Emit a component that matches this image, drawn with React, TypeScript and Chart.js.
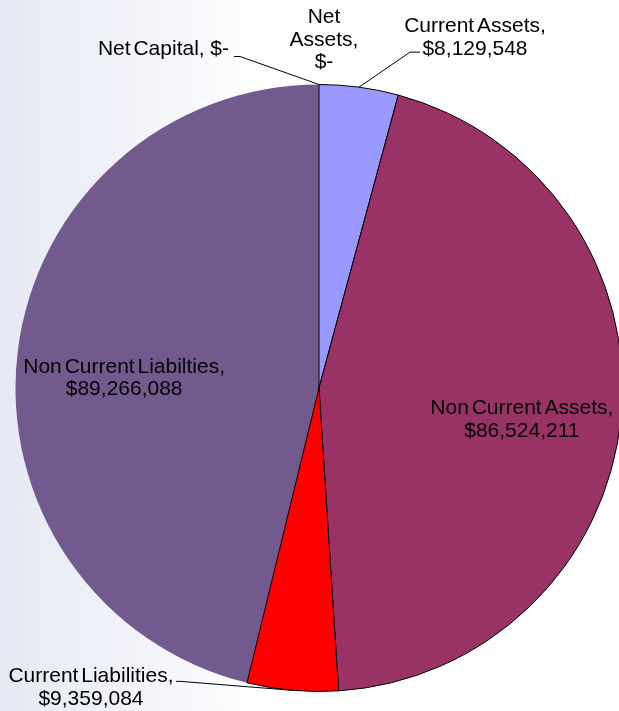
import React, { useEffect, useRef } from "react";
import { Chart, registerables } from "chart.js";

Chart.register(...registerables);

// ---- Data ----
const categories = [
  "Non Current Liabilties",
  "Net Capital",
  "Net Assets",
  "Current Assets",
  "Non Current Assets",
  "Current Liabilities",
];
const values = [89266088, 0, 0, 8129548, 86524211, 9359084];
const sliceColors = ["#725A8E", "#725A8E", "#725A8E", "#9999FF", "#993366", "#FF0000"];
const sliceBorderWidths = [0, 0, 0, 1, 1, 1];

const FONT = "21px 'Liberation Sans', Arial, sans-serif";
const LINE_H = 22.5;

const fmt = (v: number) => (v === 0 ? "$-" : "$" + v.toLocaleString("en-US"));

type Layout = {
  mode: "inside" | "outside";
  frac?: number;
  dx: number;
  dy: number;
  align: CanvasTextAlign;
  leader?: [number, number][];
  lines: (name: string, val: string) => string[];
};

const LAYOUT: Record<string, Layout> = {
  "Non Current Liabilties": {
    mode: "inside", frac: 0.64, dx: -2, dy: 8, align: "center",
    lines: (n, v) => [n + ",", v],
  },
  "Non Current Assets": {
    mode: "inside", frac: 0.675, dx: -1, dy: 5.6, align: "center",
    lines: (n, v) => [n + ",", v],
  },
  "Current Assets": {
    mode: "outside", dx: 116, dy: -55, align: "center",
    leader: [[51, -35], [61, -35]],
    lines: (n, v) => [n + ",", v],
  },
  "Current Liabilities": {
    mode: "outside", dx: -201.5, dy: -8, align: "center",
    leader: [[-112.5, -9], [-116.5, -9]],
    lines: (n, v) => [n + ",", v],
  },
  "Net Capital": {
    mode: "outside", dx: -90, dy: -29.5, align: "right",
    leader: [[-79, -28], [-85, -28]],
    lines: (n, v) => [n + ",  " + v],
  },
  "Net Assets": {
    mode: "outside", dx: 5, dy: -61.5, align: "center",
    lines: (n, v) => [...n.split(" ").map((w, i, arr) => (i === arr.length - 1 ? w + "," : w)), v],
  },
};

const labelPlugin = {
  id: "sliceLabels",
  afterDatasetsDraw(chart: any) {
    const ctx: CanvasRenderingContext2D = chart.ctx;
    const meta = chart.getDatasetMeta(0);
    ctx.save();
    ctx.font = FONT;
    ctx.fillStyle = "#000";
    ctx.strokeStyle = "#000";
    ctx.lineWidth = 1;
    ctx.textBaseline = "alphabetic";
    (ctx as any).wordSpacing = "-3px";
    meta.data.forEach((arc: any, i: number) => {
      const L = LAYOUT[categories[i]];
      if (!L) return;
      const p = arc.getProps(["x", "y", "startAngle", "endAngle", "outerRadius"], true);
      const a = (p.startAngle + p.endAngle) / 2;
      const r = L.mode === "inside" ? p.outerRadius * (L.frac || 0.65) : p.outerRadius;
      const ax = p.x + r * Math.cos(a);
      const ay = p.y + r * Math.sin(a);
      if (L.leader) {
        ctx.beginPath();
        ctx.moveTo(ax, ay);
        L.leader.forEach(([dx, dy]) => ctx.lineTo(ax + dx, ay + dy));
        ctx.stroke();
      }
      ctx.textAlign = L.align;
      const lines = L.lines(categories[i], fmt(values[i]));
      lines.forEach((t, k) => ctx.fillText(t, ax + L.dx, ay + L.dy + k * LINE_H));
    });
    ctx.restore();
  },
};

export default function App() {
  const ref = useRef<HTMLCanvasElement | null>(null);

  useEffect(() => {
    if (!ref.current) return;
    const total = values.reduce((s, v) => s + v, 0);
    const chart = new Chart(ref.current, {
      type: "pie",
      data: {
        labels: categories,
        datasets: [
          {
            data: values,
            backgroundColor: sliceColors,
            borderColor: "#000000",
            borderWidth: sliceBorderWidths,
          },
        ],
      },
      options: {
        responsive: false,
        animation: false,
        rotation: -(values[0] / total) * 360,
        layout: { padding: { left: 15, right: 17, top: 84, bottom: 19 } },
        plugins: {
          legend: { display: false },
          tooltip: { enabled: false },
        },
      },
      plugins: [labelPlugin],
    });
    return () => chart.destroy();
  }, []);

  return (
    <div
      style={{
        position: "fixed",
        left: 0,
        top: 0,
        width: 619,
        height: 711,
        overflow: "hidden",
        background:
          "linear-gradient(90deg, #E6E9F3 0%, #EEF0F7 15%, #F8F8FC 30%, #FFFFFF 45%)",
      }}
    >
      <canvas ref={ref} width={640} height={711} style={{ display: "block", width: 640, height: 711 }} />
    </div>
  );
}
